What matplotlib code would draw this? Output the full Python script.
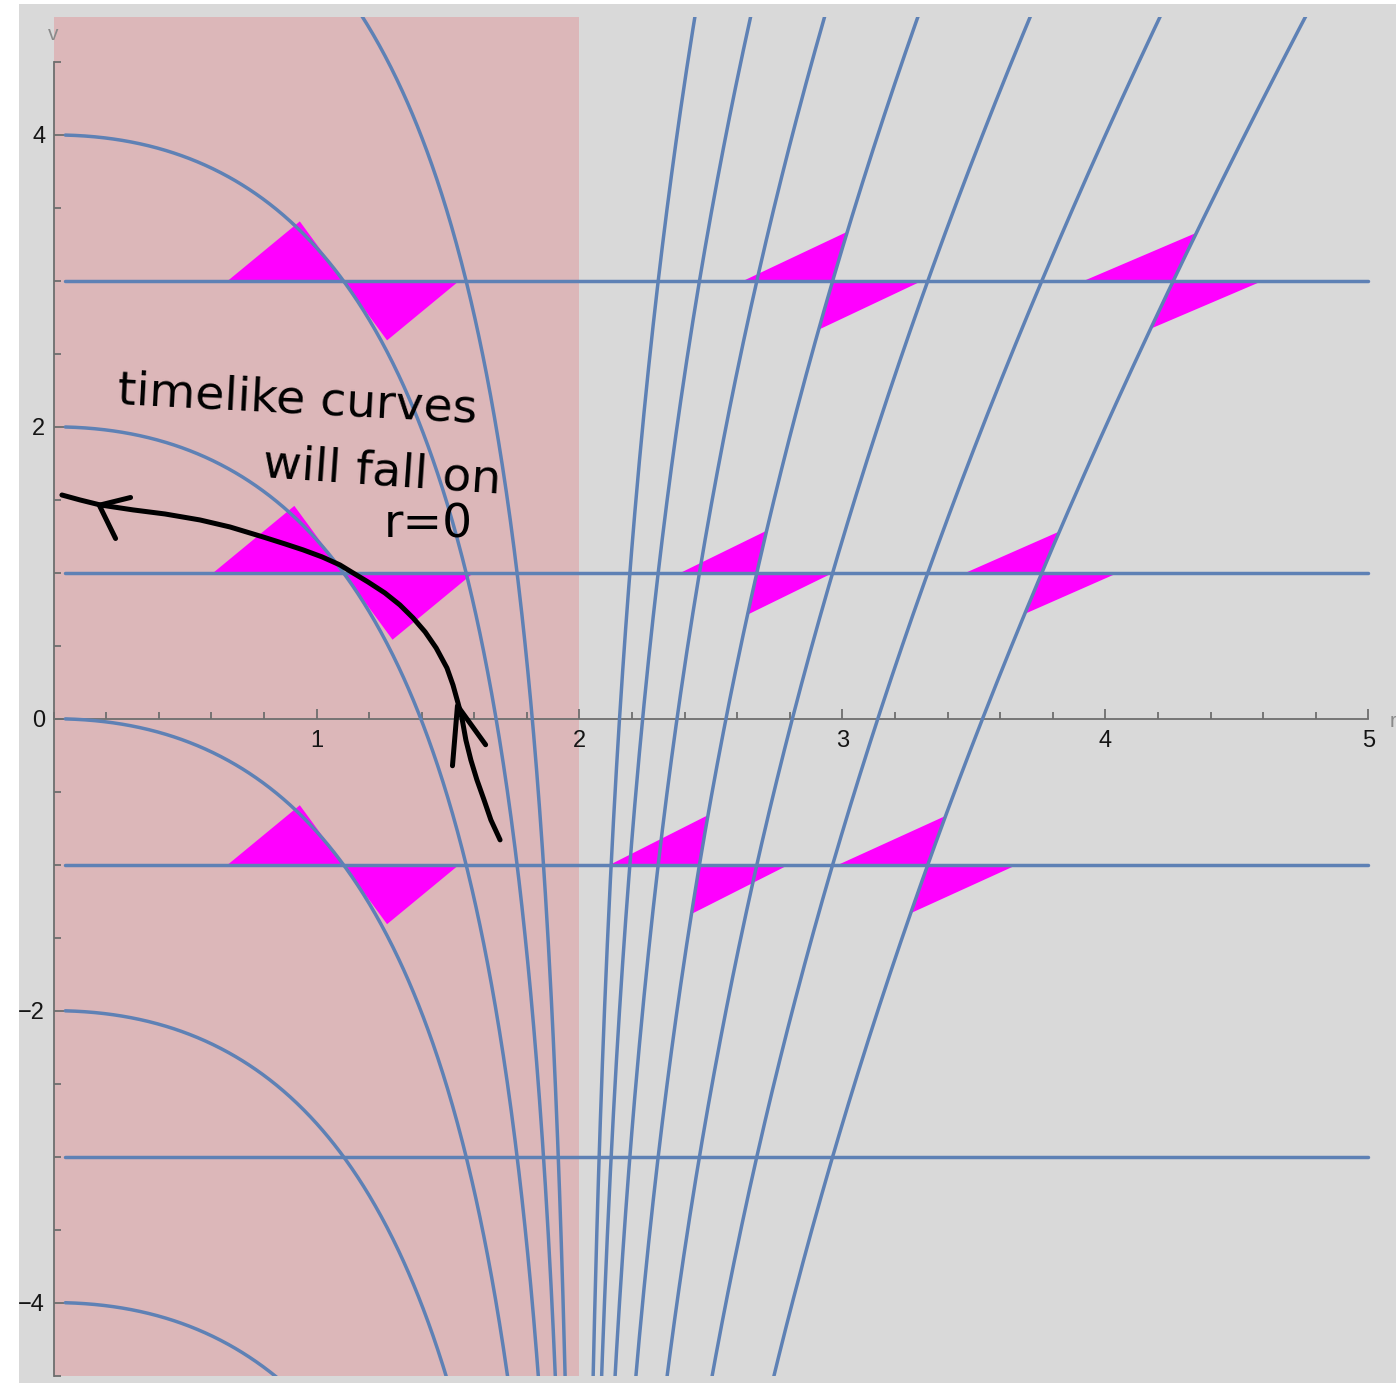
import numpy as np
import matplotlib
matplotlib.use("Agg")
import matplotlib.pyplot as plt
from matplotlib.patches import Rectangle
from matplotlib.ticker import MultipleLocator

# Config
OUTPUT_PLOT = "out.png"
GRAY = "#d9d9d9"
PINK = "#dcb7b9"
RAY_COLOR = "#5e81b5"
CONE_COLOR = "#ff00ff"

# plot range (r, v)
V_MIN, V_MAX = -4.5, 4.81
R_START, R_END = 0.045, 5.0

# outgoing null rays  v = c + 2r + 4 ln|r/2 - 1|   (M = 1)
RAY_CONSTANTS = [-6, -4, -2, 0, 2, 4, 6]
# ingoing null rays  v = const
INGOING_V = [-3, -1, 1, 3]

# light cones: sit where an ingoing line meets an outgoing ray
CONE_V = [3, 3, 3, 1, 1, 1, -1, -1, -1]
CONE_C = [4, 0, -6, 2, 0, -6, 0, 0, -6]
CONE_INSIDE = [True, False, False, True, False, False, True, False, False]
CONE_SIZE = [0.44, 0.34, 0.34, 0.495, 0.29, 0.29, 0.44, 0.34, 0.34]

# hand drawn annotation
NOTE_LINES = ["timelike curves", "will fall on", "r=0"]
NOTE_R = [0.926, 1.249, 1.424]
NOTE_V = [2.184, 1.691, 1.328]
NOTE_ROT = [-3, -4, 0]

STROKE_R = [1.698, 1.663, 1.637, 1.610, 1.587, 1.568, 1.553, 1.538, 1.519, 1.496,
            1.455, 1.413, 1.367, 1.317, 1.260, 1.196, 1.139, 1.089, 1.021, 0.949,
            0.880, 0.796, 0.671, 0.557, 0.424, 0.302, 0.177, 0.101, 0.032]
STROKE_V = [-0.830, -0.693, -0.556, -0.419, -0.283, -0.146, 0.005, 0.108, 0.231, 0.348,
            0.485, 0.595, 0.691, 0.780, 0.862, 0.937, 0.999, 1.054, 1.109, 1.157,
            1.198, 1.246, 1.314, 1.362, 1.403, 1.431, 1.465, 1.499, 1.533]
HEAD_LEFT_R = [0.293, 0.174, 0.236]
HEAD_LEFT_V = [1.516, 1.463, 1.235]
HEAD_UP_R = [1.517, 1.536, 1.643]
HEAD_UP_V = [-0.322, 0.089, -0.178]


def ray_v(r, c):
    return c + 2 * r + 4 * np.log(np.abs(r / 2 - 1))


def main():
    fig = plt.figure(figsize=(13.96, 13.83), dpi=100)
    fig.patch.set_facecolor("white")
    ax = fig.add_axes([19 / 1396, 0, 1 - 19 / 1396, 1 - 4 / 1383])
    ax.set_facecolor(GRAY)
    ax.set_xlim(-0.1312, 5.1046)
    ax.set_ylim(-4.551, 4.897)

    # region inside the horizon
    ax.add_patch(Rectangle((0, V_MIN), 2, V_MAX - V_MIN, color=PINK, lw=0, zorder=0))

    clip = Rectangle((-1, V_MIN), 8, V_MAX - V_MIN, transform=ax.transData)

    r_in = np.concatenate([np.linspace(R_START, 1.9, 500), 2 - np.logspace(-1, -9, 400)])
    r_out = np.concatenate([2 + np.logspace(-9, -1, 400), np.linspace(2.1, R_END, 500)])

    for c in RAY_CONSTANTS:
        for rr in (r_in, r_out):
            line, = ax.plot(rr, ray_v(rr, c), color=RAY_COLOR, lw=2.5, zorder=3,
                            solid_capstyle="round")
            line.set_clip_path(clip)

    for v0 in INGOING_V:
        ax.plot([R_START, R_END], [v0, v0], color=RAY_COLOR, lw=2.5, zorder=3,
                solid_capstyle="round")

    # light cones
    for v0, c, inside, s in zip(CONE_V, CONE_C, CONE_INSIDE, CONE_SIZE):
        rr = r_in if inside else r_out
        vv = ray_v(rr, c)
        order = np.argsort(vv)
        r0 = np.interp(v0, vv[order], rr[order])
        d = np.array([r0 - 2, 2 * r0])
        d = d / np.hypot(*d)
        p = np.array([r0, v0])
        upper = np.array([p, p + [-s, 0], p + s * d])
        lower = np.array([p, p + [s, 0], p - s * d])
        for tri in (upper, lower):
            ax.fill(tri[:, 0], tri[:, 1], color=CONE_COLOR, lw=0, zorder=2)

    # axes through the origin
    for side in ["top", "right"]:
        ax.spines[side].set_visible(False)
    ax.spines["left"].set_position(("data", 0))
    ax.spines["bottom"].set_position(("data", 0))
    ax.spines["left"].set_bounds(-4.5, 4.5)
    ax.spines["bottom"].set_bounds(0, 5)
    for side in ["left", "bottom"]:
        ax.spines[side].set_color("#6e6e6e")
        ax.spines[side].set_linewidth(1.3)
        ax.spines[side].set_zorder(2.5)
    ax.set_xticks([1, 2, 3, 4, 5])
    ax.set_yticks([-4, -2, 0, 2, 4])
    ax.xaxis.set_minor_locator(MultipleLocator(0.2))
    ax.yaxis.set_minor_locator(MultipleLocator(0.5))
    ax.tick_params(which="both", direction="in", color="#6e6e6e", width=1.3)
    ax.tick_params(which="major", length=7)
    ax.tick_params(which="minor", length=5)
    ax.tick_params(axis="x", which="major", pad=8)
    ax.tick_params(axis="y", which="major", pad=6)
    for lab in ax.get_xticklabels() + ax.get_yticklabels():
        lab.set_fontfamily("Liberation Sans")
        lab.set_fontsize(17)
        lab.set_color("#151515")
    ax.text(0.0, 4.685, "v", fontsize=15, color="#8a8a8a", ha="center", va="center",
            family="Liberation Sans")
    ax.text(5.093, -0.02, "r", fontsize=15, color="#8a8a8a", ha="center", va="center",
            family="Liberation Sans")

    # hand written note
    for txt, r, v, rot in zip(NOTE_LINES, NOTE_R, NOTE_V, NOTE_ROT):
        ax.text(r, v, txt, fontsize=34, color="black", ha="center", va="center",
                rotation=rot, family="DejaVu Sans", zorder=5)
    ax.plot(STROKE_R, STROKE_V, color="black", lw=3.6, zorder=5,
            solid_capstyle="round", solid_joinstyle="round")
    ax.plot(HEAD_LEFT_R, HEAD_LEFT_V, color="black", lw=3.6, zorder=5,
            solid_capstyle="round", solid_joinstyle="round")
    ax.plot(HEAD_UP_R, HEAD_UP_V, color="black", lw=3.6, zorder=5,
            solid_capstyle="round", solid_joinstyle="round")

    fig.savefig(OUTPUT_PLOT, dpi=100)


if __name__ == "__main__":
    main()
